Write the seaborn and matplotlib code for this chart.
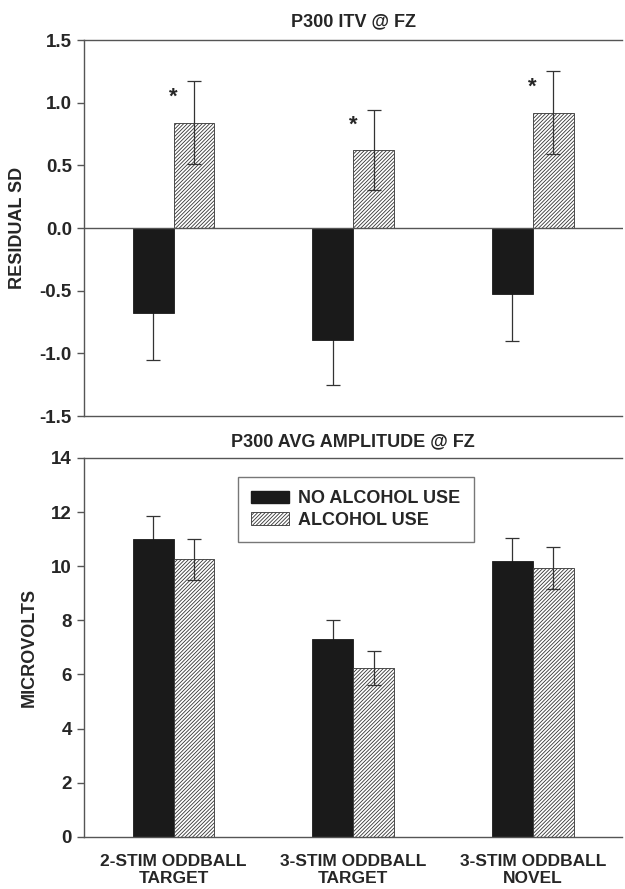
import numpy as np
import pandas as pd
import matplotlib
matplotlib.use("Agg")
import matplotlib.pyplot as plt
import seaborn as sns
from matplotlib.patches import Patch

# Data
conditions = ["2-STIM ODDBALL\nTARGET", "3-STIM ODDBALL\nTARGET", "3-STIM ODDBALL\nNOVEL"]
groups = ["NO ALCOHOL USE", "ALCOHOL USE"]

itv_no = [-0.68, -0.89, -0.53]
itv_no_err = [0.37, 0.36, 0.37]
itv_yes = [0.84, 0.62, 0.92]
itv_yes_err = [0.33, 0.32, 0.33]
itv_sig = [True, True, True]

amp_no = [11.02, 7.30, 10.18]
amp_no_err = [0.83, 0.70, 0.87]
amp_yes = [10.25, 6.25, 9.93]
amp_yes_err = [0.75, 0.63, 0.78]

sns.set_style("white")
plt.rcParams["font.family"] = ["Liberation Sans Narrow", "Liberation Sans", "DejaVu Sans"]
plt.rcParams["font.weight"] = "bold"
plt.rcParams["hatch.linewidth"] = 0.6

spine_col = "#555555"
bar_width = 0.456
hatch = "/" * 9


def make_df(no, yes):
    return pd.DataFrame({
        "condition": conditions * 2,
        "group": [groups[0]] * 3 + [groups[1]] * 3,
        "value": list(no) + list(yes),
    })


def draw_panel(ax, no, no_err, yes, yes_err):
    df = make_df(no, yes)
    sns.barplot(data=df, x="condition", y="value", hue="group", order=conditions,
                hue_order=groups, palette=["#1a1a1a", "white"], width=bar_width,
                errorbar=None, legend=False, ax=ax, saturation=1)
    for p in ax.containers[0]:
        p.set_edgecolor("#1a1a1a")
        p.set_linewidth(0.6)
        p.set_zorder(2)
    for p in ax.containers[1]:
        p.set_facecolor("white")
        p.set_hatch(hatch)
        p.set_edgecolor("#333333")
        p.set_linewidth(0.6)
        p.set_zorder(2)
    xs = np.arange(len(conditions))
    # black bars hide the inner half of their error bars
    ax.errorbar(xs - bar_width / 4, no, yerr=no_err, fmt="none", ecolor="#333333",
                elinewidth=0.9, capsize=5, capthick=0.9, zorder=1)
    ax.errorbar(xs + bar_width / 4, yes, yerr=yes_err, fmt="none", ecolor="#333333",
                elinewidth=0.9, capsize=5, capthick=0.9, zorder=3)
    ax.set_xlim(-0.5, 2.5)
    ax.set_xlabel("")
    for s in ["left", "top", "bottom"]:
        ax.spines[s].set_color(spine_col)
        ax.spines[s].set_linewidth(1.0)
    ax.spines["right"].set_visible(False)
    ax.tick_params(axis="y", direction="out", length=5, width=1, color=spine_col,
                   labelsize=13.5, left=True)
    ax.tick_params(axis="x", length=0, labelsize=12.5, pad=12)
    for lab in ax.get_yticklabels() + ax.get_xticklabels():
        lab.set_fontweight("bold")


fig = plt.figure(figsize=(6.25, 8.89), dpi=100)
ax1 = fig.add_axes([0.134, 0.532, 0.862, 0.423])
ax2 = fig.add_axes([0.134, 0.0585, 0.862, 0.4265])

# Top panel: ITV
draw_panel(ax1, itv_no, itv_no_err, itv_yes, itv_yes_err)
ax1.set_ylim(-1.5, 1.5)
ax1.set_yticks(np.arange(-1.5, 1.51, 0.5))
ax1.set_yticklabels([f"{v:.1f}" for v in np.arange(-1.5, 1.51, 0.5)])
ax1.axhline(0, color=spine_col, lw=1.0, zorder=2.5)
ax1.set_xticklabels([])
ax1.set_ylabel("RESIDUAL SD", fontsize=13, fontweight="bold", labelpad=10)
ax1.set_title("P300 ITV @ FZ", fontsize=13, fontweight="bold", pad=10)
for i, (v, sig) in enumerate(zip(itv_yes, itv_sig)):
    if sig:
        ax1.text(i, v + 0.2, "*", ha="center", va="center", fontsize=16, fontweight="bold")

# Bottom panel: amplitude
draw_panel(ax2, amp_no, amp_no_err, amp_yes, amp_yes_err)
ax2.set_ylim(0, 14)
ax2.set_yticks(range(0, 15, 2))
ax2.set_ylabel("MICROVOLTS", fontsize=13, fontweight="bold", labelpad=10)
ax2.set_title("P300 AVG AMPLITUDE @ FZ", fontsize=13, fontweight="bold", pad=8)
for lab in ax2.get_xticklabels():
    lab.set_fontweight("bold")

handles = [Patch(facecolor="#1a1a1a", edgecolor="#1a1a1a"),
           Patch(facecolor="white", edgecolor="#333333", hatch=hatch, lw=0.6)]
leg = ax2.legend(handles, groups, loc="upper center", bbox_to_anchor=(0.505, 0.95),
                 frameon=True, fancybox=False, edgecolor="#555555", fontsize=13,
                 handlelength=2.1, handleheight=0.7, borderpad=0.75, labelspacing=0.25,
                 handletextpad=0.5, borderaxespad=0)
leg.get_frame().set_linewidth(1.0)
for t in leg.get_texts():
    t.set_fontweight("bold")

fig.savefig("out.png", dpi=100)
